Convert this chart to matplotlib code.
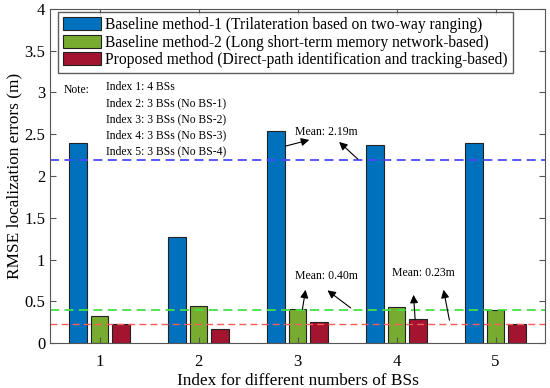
import matplotlib
matplotlib.use("Agg")
import matplotlib.pyplot as plt
import numpy as np

plt.rcParams['font.family'] = ['Liberation Serif', 'DejaVu Serif']

idx = np.array([1, 2, 3, 4, 5])
baseline1 = [2.40, 1.27, 2.54, 2.37, 2.40]
baseline2 = [0.32, 0.44, 0.41, 0.43, 0.40]
proposed = [0.23, 0.17, 0.25, 0.29, 0.23]
means = [2.19, 0.40, 0.23]
labels = ["Baseline method-1 (Trilateration based on two-way ranging)",
          "Baseline method-2 (Long short-term memory network-based)",
          "Proposed method (Direct-path identification and tracking-based)"]
notes = ["Index 1: 4 BSs", "Index 2: 3 BSs (No BS-1)", "Index 3: 3 BSs (No BS-2)",
         "Index 4: 3 BSs (No BS-3)", "Index 5: 3 BSs (No BS-4)"]

fig = plt.figure(figsize=(5.5, 3.88), dpi=100)
ax = fig.add_axes([50/550, 45/388, 495/550, 334/388])

w = 0.18
d = 0.22
ax.bar(idx - d, baseline1, w, color='#0072BD', edgecolor='#222222', linewidth=0.8, label=labels[0])
ax.bar(idx, baseline2, w, color='#77AC30', edgecolor='#222222', linewidth=0.8, label=labels[1])
ax.bar(idx + d, proposed, w, color='#A2142F', edgecolor='#222222', linewidth=0.8, label=labels[2])

ax.axhline(means[0], color='#4a4aff', ls=(0, (5, 3)), lw=1.3)
ax.axhline(means[1], color='#44e044', ls=(0, (5, 3)), lw=1.3)
ax.axhline(means[2], color='#ff5a5a', ls=(0, (5, 3)), lw=1.0)

ax.set_xlim(0.5, 5.5)
ax.set_ylim(0, 4)
ax.set_xticks(idx)
ax.set_yticks(np.arange(0, 4.01, 0.5))
ax.set_yticklabels(['0', '0.5', '1', '1.5', '2', '2.5', '3', '3.5', '4'])
ax.tick_params(direction='in', top=True, right=True, labelsize=12, length=4, color='#555555')
ax.tick_params(axis='x', pad=8)
for s in ax.spines.values():
    s.set_color('#555555')
ax.set_xlabel("Index for different numbers of BSs", fontsize=12.4, labelpad=2)
ax.set_ylabel("RMSE localization errors (m)", fontsize=12.4, labelpad=1)

leg = ax.legend(loc='upper left', fontsize=11.2, frameon=True, fancybox=False,
                handlelength=2.45, handleheight=0.9, borderpad=0.3, labelspacing=0.1,
                handletextpad=0.3, borderaxespad=0.0, bbox_to_anchor=(0.016, 0.99))
leg.get_frame().set_edgecolor('#333333')
leg.get_frame().set_linewidth(1.0)

ax.text(0.64, 3.03, "Note:", fontsize=8.4, va='center')
for i, t in enumerate(notes):
    ax.text(1.066, 3.07 - i * 0.195, t, fontsize=8.4, va='center')

ap = dict(arrowstyle='-|>', color='black', lw=0.8, mutation_scale=12)
ax.text(3.29, 2.53, "Mean: 2.19m", fontsize=8.5, ha='center', va='center')
ax.annotate("", xy=(3.146, 2.44), xytext=(2.853, 2.35), arrowprops=ap)
ax.annotate("", xy=(3.40, 2.43), xytext=(3.63, 2.18), arrowprops=ap)

ax.text(3.29, 0.80, "Mean: 0.40m", fontsize=8.5, ha='center', va='center')
ax.annotate("", xy=(3.086, 0.67), xytext=(3.045, 0.37), arrowprops=ap)
ax.annotate("", xy=(3.28, 0.65), xytext=(3.56, 0.40), arrowprops=ap)

ax.text(4.27, 0.84, "Mean: 0.23m", fontsize=8.5, ha='center', va='center')
ax.annotate("", xy=(4.17, 0.61), xytext=(4.19, 0.25), arrowprops=ap)
ax.annotate("", xy=(4.47, 0.67), xytext=(4.54, 0.24), arrowprops=ap)

fig.savefig("out.png", dpi=100)
